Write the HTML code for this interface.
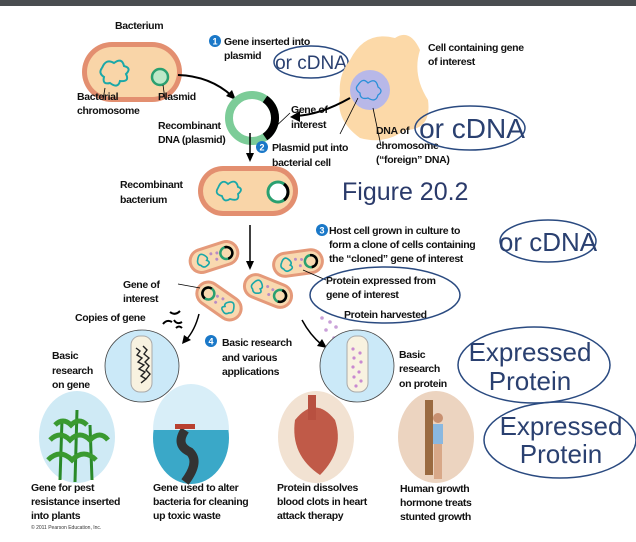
<!DOCTYPE html>
<html><head><meta charset="utf-8"><style>
html,body{margin:0;padding:0;background:#fff;}
svg{display:block;}
text{font-family:"Liberation Sans",sans-serif;}
.l{font-size:10.5px;font-weight:bold;fill:#111;letter-spacing:-0.35px;}
.b{fill:#2a4070;}
</style></head><body>
<svg width="636" height="542" viewBox="0 0 636 542" xmlns="http://www.w3.org/2000/svg">
<defs>
<g id="bac">
<rect x="-26" y="-13" width="52" height="26" rx="13" fill="#e59a7a"/>
<rect x="-23" y="-10" width="46" height="20" rx="10" fill="#f9d9b0"/>
<path d="M-16,-3 q3,-6 7,-2 q4,4 1,6 q4,3 -1,5 q-4,2 -6,-2 q-4,-2 -1,-7" fill="none" stroke="#1aa8a8" stroke-width="1.6"/>
<circle cx="-2" cy="-4" r="1.5" fill="#b98cc4"/><circle cx="2" cy="3" r="1.5" fill="#b98cc4"/><circle cx="4" cy="-3" r="1.5" fill="#b98cc4"/>
<circle cx="13" cy="0" r="6" fill="none" stroke="#2aa070" stroke-width="2.5"/>
<path d="M13,-6 a6,6 0 0 1 0,12" fill="none" stroke="#000" stroke-width="2.5"/>
</g>
</defs>
<rect x="0" y="0" width="636" height="6" fill="#4a4d50"/>

<text class="l" x="115" y="29">Bacterium</text>
<rect x="82" y="42" width="100" height="60" rx="30" fill="#e38f70"/>
<rect x="87" y="47" width="90" height="50" rx="25" fill="#f9d5a8"/>
<path d="M102,68 q4,-10 12,-5 q8,-6 10,3 q8,2 2,8 q4,8 -6,7 q-2,8 -10,2 q-8,2 -6,-6 q-6,-4 -2,-9" fill="none" stroke="#1aa8a8" stroke-width="2"/>
<circle cx="160" cy="77" r="8" fill="#bde8c8" stroke="#2aa070" stroke-width="2.5"/>
<line x1="105" y1="88" x2="103" y2="100" stroke="#000" stroke-width="0.8"/>
<line x1="163" y1="85" x2="165" y2="99" stroke="#000" stroke-width="0.8"/>
<text class="l" x="77" y="100">Bacterial</text>
<text class="l" x="77" y="114">chromosome</text>
<text class="l" x="158" y="100">Plasmid</text>
<path d="M178,75 Q210,76 232,96" fill="none" stroke="#000" stroke-width="2"/>
<polygon points="236,100 226,96 232,90" fill="#000"/>

<circle cx="252" cy="118" r="23" fill="#fff" stroke="#7ccc98" stroke-width="8"/>
<path d="M265,99 A23,23 0 0 1 265,137" fill="none" stroke="#000" stroke-width="8"/>
<line x1="272" y1="130" x2="290" y2="113" stroke="#000" stroke-width="0.8"/>
<text class="l" x="291" y="113">Gene of</text>
<text class="l" x="291" y="128">interest</text>
<text class="l" x="158" y="129">Recombinant</text>
<text class="l" x="158" y="143">DNA (plasmid)</text>

<circle cx="215" cy="41" r="6" fill="#1a78c8"/><text x="215" y="44.5" text-anchor="middle" font-size="9" font-weight="bold" fill="#fff">1</text>
<text class="l" x="224" y="45">Gene inserted into</text>
<text class="l" x="224" y="59">plasmid</text>
<ellipse cx="311" cy="62" rx="37" ry="16" fill="none" stroke="#2a4a80" stroke-width="1.5"/>
<text class="b" x="311" y="69" text-anchor="middle" style="font-size:19px">or cDNA</text>

<path d="M350,60 Q365,30 395,38 Q410,28 420,50 Q412,75 428,100 Q432,130 405,130 Q385,145 360,138 Q335,120 340,95 Q338,75 350,60Z" fill="#fcd9a8"/>
<circle cx="370" cy="90" r="20" fill="#b8b8e8"/>
<path d="M358,85 q5,-8 10,-2 q8,-6 10,4 q6,4 0,8 q-2,8 -10,3 q-8,2 -8,-5 q-6,-4 -2,-8" fill="none" stroke="#2a90d8" stroke-width="1.3"/>
<path d="M350,98 Q320,115 295,116" fill="none" stroke="#000" stroke-width="2"/>
<polygon points="290,117 300,111 300,122" fill="#000"/>
<line x1="340" y1="134" x2="358" y2="98" stroke="#000" stroke-width="0.8"/>
<line x1="381" y1="146" x2="373" y2="108" stroke="#000" stroke-width="0.8"/>
<text class="l" x="428" y="51">Cell containing gene</text>
<text class="l" x="428" y="65">of interest</text>
<text class="l" x="376" y="134">DNA of</text>
<text class="l" x="376" y="149">chromosome</text>
<text class="l" x="376" y="163">(“foreign” DNA)</text>
<ellipse cx="470" cy="128" rx="55" ry="22" fill="none" stroke="#2a4a80" stroke-width="1.5"/>
<text class="b" x="472" y="138" text-anchor="middle" style="font-size:28px">or cDNA</text>

<line x1="250" y1="133" x2="250" y2="154" stroke="#000" stroke-width="1.5"/>
<polygon points="246,153 254,153 250,162" fill="#000"/>
<circle cx="262" cy="147" r="6" fill="#1a78c8"/><text x="262" y="150.5" text-anchor="middle" font-size="9" font-weight="bold" fill="#fff">2</text>
<text class="l" x="272" y="151">Plasmid put into</text>
<text class="l" x="272" y="166">bacterial cell</text>

<text class="l" x="120" y="188">Recombinant</text>
<text class="l" x="120" y="203">bacterium</text>
<rect x="198" y="166" width="100" height="50" rx="25" fill="#e38f70"/>
<rect x="203" y="171" width="90" height="40" rx="20" fill="#f9d5a8"/>
<path d="M218,188 q4,-10 10,-4 q8,-6 10,3 q6,2 0,7 q2,8 -8,5 q-6,4 -8,-3 q-8,-2 -4,-8" fill="none" stroke="#1aa8a8" stroke-width="1.8"/>
<circle cx="278" cy="192" r="10" fill="#fff" stroke="#2aa070" stroke-width="3"/>
<path d="M284,184 a10,10 0 0 1 0,16" fill="none" stroke="#000" stroke-width="3"/>
<text x="342" y="200" style="font-size:25px" fill="#2a3a6a">Figure 20.2</text>

<line x1="250" y1="225" x2="250" y2="262" stroke="#000" stroke-width="1.5"/>
<polygon points="246,261 254,261 250,270" fill="#000"/>
<circle cx="322" cy="230" r="6" fill="#1a78c8"/><text x="322" y="233.5" text-anchor="middle" font-size="9" font-weight="bold" fill="#fff">3</text>
<text class="l" x="329" y="234">Host cell grown in culture to</text>
<text class="l" x="329" y="248">form a clone of cells containing</text>
<text class="l" x="329" y="262">the “cloned” gene of interest</text>
<ellipse cx="548" cy="241" rx="48" ry="21" fill="none" stroke="#2a4a80" stroke-width="1.5"/>
<text class="b" x="548" y="251" text-anchor="middle" style="font-size:26px">or cDNA</text>

<use href="#bac" transform="translate(214,257) rotate(-18)"/>
<use href="#bac" transform="translate(298,263) rotate(-8)"/>
<use href="#bac" transform="translate(219,301) rotate(35) scale(-1,1)"/>
<use href="#bac" transform="translate(268,291) rotate(22)"/>
<line x1="178" y1="284" x2="200" y2="288" stroke="#000" stroke-width="0.8"/>
<line x1="303" y1="270" x2="326" y2="280" stroke="#000" stroke-width="0.8"/>
<text class="l" x="123" y="288">Gene of</text>
<text class="l" x="123" y="302">interest</text>
<text class="l" x="75" y="321">Copies of gene</text>
<path d="M163,324 q4,-5 9,-2 M170,312 q5,4 10,-1 M174,320 q3,5 8,2 M176,328 q3,-3 6,0" fill="none" stroke="#000" stroke-width="2"/>
<ellipse cx="385" cy="295" rx="75" ry="28" fill="none" stroke="#2a4a80" stroke-width="1.5"/>
<text class="l" x="326" y="284">Protein expressed from</text>
<text class="l" x="326" y="298">gene of interest</text>
<text class="l" x="344" y="318">Protein harvested</text>
<g fill="#c9a0d8"><circle cx="322" cy="318" r="1.8"/><circle cx="330" cy="322" r="1.8"/><circle cx="326" cy="330" r="1.8"/><circle cx="336" cy="327" r="1.8"/><circle cx="334" cy="338" r="1.8"/></g>

<path d="M199,314 Q195,330 186,340" fill="none" stroke="#000" stroke-width="1.5"/>
<polygon points="182,344 184,335 191,340" fill="#000"/>
<path d="M302,320 Q310,335 322,345" fill="none" stroke="#000" stroke-width="1.5"/>
<polygon points="327,348 317,346 322,339" fill="#000"/>
<circle cx="211" cy="341" r="6" fill="#1a78c8"/><text x="211" y="344.5" text-anchor="middle" font-size="9" font-weight="bold" fill="#fff">4</text>
<text class="l" x="222" y="346">Basic research</text>
<text class="l" x="222" y="361">and various</text>
<text class="l" x="222" y="375">applications</text>

<ellipse cx="142" cy="366" rx="37" ry="36" fill="#cbe9f8" stroke="#444" stroke-width="0.8"/>
<rect x="131" y="336" width="21" height="56" rx="9" fill="#f8f2e0" stroke="#aaa"/>
<path d="M136,348 l4,3 l-3,4 l5,3 l-4,4 l6,3 l-5,4 l6,3 l-4,4 l5,3 l-5,4 M143,346 l4,4 l-3,4 l5,4 l-4,4 l4,4 l-3,4 l4,4 l-4,5" fill="none" stroke="#222" stroke-width="1.4"/>
<text class="l" x="52" y="359">Basic</text>
<text class="l" x="52" y="374">research</text>
<text class="l" x="52" y="388">on gene</text>
<ellipse cx="357" cy="366" rx="37" ry="36" fill="#cbe9f8" stroke="#444" stroke-width="0.8"/>
<rect x="347" y="336" width="21" height="56" rx="9" fill="#f8f2e0" stroke="#aaa"/>
<g fill="#c98ad0"><circle cx="353" cy="349" r="1.6"/><circle cx="360" cy="353" r="1.6"/><circle cx="354" cy="358" r="1.6"/><circle cx="361" cy="362" r="1.6"/><circle cx="353" cy="367" r="1.6"/><circle cx="359" cy="372" r="1.6"/><circle cx="354" cy="377" r="1.6"/><circle cx="361" cy="381" r="1.6"/><circle cx="356" cy="386" r="1.6"/></g>
<text class="l" x="399" y="358">Basic</text>
<text class="l" x="399" y="372">research</text>
<text class="l" x="399" y="387">on protein</text>
<ellipse cx="534" cy="365" rx="76" ry="38" fill="none" stroke="#2a4a80" stroke-width="1.5"/>
<text class="b" x="530" y="361" text-anchor="middle" style="font-size:26px">Expressed</text>
<text class="b" x="530" y="390" text-anchor="middle" style="font-size:26px">Protein</text>
<ellipse cx="560" cy="440" rx="76" ry="38" fill="none" stroke="#2a4a80" stroke-width="1.5"/>
<text class="b" x="561" y="435" text-anchor="middle" style="font-size:26px">Expressed</text>
<text class="b" x="561" y="463" text-anchor="middle" style="font-size:26px">Protein</text>

<ellipse cx="77" cy="437" rx="38" ry="46" fill="#cfeaf5"/>
<path d="M60,480 L62,420 M75,482 L77,410 M92,480 L90,425" stroke="#2a8a2a" stroke-width="3"/>
<path d="M50,440 q10,-10 20,0 q10,-10 20,0 q10,-10 18,0 M48,460 q12,-12 24,0 q12,-12 24,0 M55,425 q8,-8 16,0 q8,-8 16,0" fill="none" stroke="#3a9a30" stroke-width="5"/>
<ellipse cx="191" cy="438" rx="38" ry="46" fill="#3aa8c8"/>
<path d="M153,430 A38,46 0 0 1 229,430 Z" fill="#d8eef8"/>
<path d="M185,430 q-10,15 5,22 q10,10 -5,30" fill="none" stroke="#333" stroke-width="9"/>
<rect x="175" y="424" width="20" height="5" fill="#b84030"/>
<ellipse cx="316" cy="437" rx="38" ry="46" fill="#f2e2d2"/>
<path d="M295,420 q20,-25 40,0 q10,30 -15,55 q-30,-20 -25,-55Z" fill="#c05a48"/>
<rect x="308" y="395" width="8" height="25" fill="#b85040"/>
<ellipse cx="436" cy="437" rx="38" ry="46" fill="#ecd4c0"/>
<rect x="425" y="400" width="8" height="75" fill="#9a6a40"/>
<circle cx="438" cy="418" r="5" fill="#c89070"/>
<rect x="433" y="424" width="10" height="20" fill="#8ab8e0"/>
<rect x="434" y="444" width="8" height="35" fill="#d8a888"/>

<text class="l" x="31" y="491">Gene for pest</text>
<text class="l" x="31" y="505">resistance inserted</text>
<text class="l" x="31" y="519">into plants</text>
<text class="l" x="153" y="491">Gene used to alter</text>
<text class="l" x="153" y="505">bacteria for cleaning</text>
<text class="l" x="153" y="519">up toxic waste</text>
<text class="l" x="277" y="491">Protein dissolves</text>
<text class="l" x="277" y="505">blood clots in heart</text>
<text class="l" x="277" y="519">attack therapy</text>
<text class="l" x="400" y="492">Human growth</text>
<text class="l" x="400" y="506">hormone treats</text>
<text class="l" x="400" y="520">stunted growth</text>
<text x="31" y="529" font-size="5" fill="#333">© 2011 Pearson Education, Inc.</text>
</svg>
</body></html>
